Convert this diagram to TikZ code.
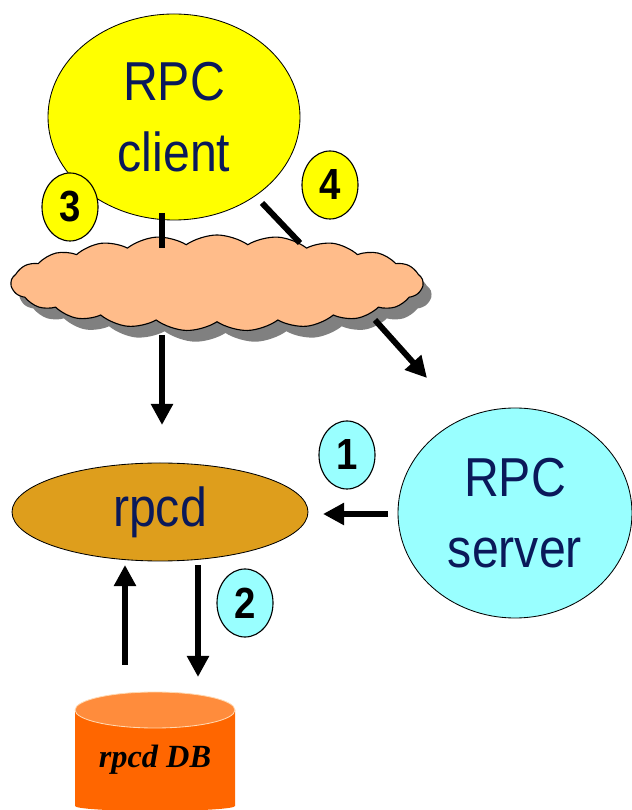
\documentclass[tikz,border=0pt]{standalone}
\usepackage{fontspec}
\setmainfont{Liberation Sans}
\newfontfamily\bigfont{Liberation Sans}[FakeStretch=0.88]
\newfontfamily\dbfont{Liberation Serif}
\usetikzlibrary{arrows.meta,shapes.geometric,shapes.symbols,shadows}

\definecolor{clientyellow}{RGB}{255,255,0}
\definecolor{servercyan}{RGB}{153,255,255}
\definecolor{rpcdgold}{RGB}{222,158,28}
\definecolor{cloudpeach}{RGB}{255,188,138}
\definecolor{dborange}{RGB}{255,102,0}
\definecolor{dbcap}{RGB}{255,140,60}
\definecolor{labelblue}{RGB}{10,25,90}

\newcommand\pxu{0.025cm}
\newcommand\biglabel{\bigfont\fontsize{39}{50}\selectfont}
\newcommand\numlabel{\bigfont\bfseries\fontsize{31}{31}\selectfont}

\tikzset{
  blob/.style={ellipse, draw=black, line width=0.6pt, inner sep=0pt,
    align=center, text=labelblue, font=\biglabel},
  num/.style={ellipse, draw=black, line width=0.8pt, inner sep=0pt,
    minimum width=56*\pxu, minimum height=68*\pxu, font=\numlabel},
  arr/.style={line width=4.2pt, -{Triangle[length=15pt,width=15pt]}},
  seg/.style={line width=4.2pt}
}

\begin{document}
\begin{tikzpicture}[x=\pxu,y=\pxu]
\useasboundingbox (0,0) rectangle (632,810);

% client, daemon and server
\node[blob, fill=clientyellow, minimum width=252*\pxu, minimum height=206*\pxu] (client) at (174,693) {RPC\\client};
\node[blob, fill=rpcdgold, minimum width=296*\pxu, minimum height=98*\pxu] (rpcd) at (160,298) {rpcd};
\node[blob, fill=servercyan, minimum width=234*\pxu, minimum height=210*\pxu] (server) at (515,297) {RPC\\server};

% the network
\node[cloud, cloud puffs=21, cloud puff arc=70, aspect=4.3, fill=cloudpeach, draw=black, line width=0.8pt,
  minimum width=412*\pxu, minimum height=96*\pxu,
  drop shadow={shadow xshift=6pt, shadow yshift=-8pt, fill=gray, opacity=1}] (net) at (217,527) {};

% the database
\fill[dborange] (75,100) -- (75,4) arc[start angle=180, end angle=360, x radius=80*\pxu, y radius=5*\pxu] -- (235,100) -- cycle;
\draw[fill=dbcap, draw=orange!30!white, line width=0.6pt] (155,100) ellipse[x radius=80*\pxu, y radius=18*\pxu];
\node[font=\dbfont\bfseries\itshape\fontsize{23}{26}\selectfont] (db) at (155,50) {rpcd DB};

% step numbers
\node[num, fill=servercyan] (n1) at (347,355) {1};
\node[num, fill=servercyan] (n2) at (245,207) {2};
\node[num, fill=clientyellow] (n3) at (70,603) {3};
\node[num, fill=clientyellow] (n4) at (330,625) {4};

% arrow ends
\coordinate (a3) at (162,597);
\coordinate (b3) at (162,562);
\coordinate (c3) at (162,475);
\coordinate (d3) at (162,385);
\coordinate (a4) at (262,607);
\coordinate (b4) at (300,567);
\coordinate (c4) at (375,490);
\coordinate (d4) at (427,432);
\coordinate (a1) at (388,296);
\coordinate (b1) at (323,296);
\coordinate (dbin) at (198,133);
\coordinate (dbout) at (125,145);
\coordinate (up) at (125,245);
\coordinate (down) at (198,245);

\draw[seg] (a3) -- (b3);
\draw[arr] (c3) -- (d3);
\draw[seg] (a4) -- (b4);
\draw[arr] (c4) -- (d4);
\draw[arr] (a1) -- (b1);
\draw[arr] (dbout) -- (up);
\draw[arr] (down) -- (dbin);

\end{tikzpicture}
\end{document}
